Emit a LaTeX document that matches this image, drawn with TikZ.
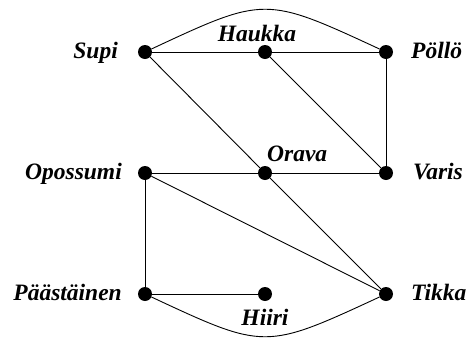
\documentclass[tikz,border=0pt]{standalone}
\usepackage{fontspec}
\setmainfont{Liberation Serif}
\begin{document}
\begin{tikzpicture}[x=1pt,y=-1pt,
  vtx/.style={circle,fill=black,draw=none,minimum size=14pt,inner sep=0pt},
  lbl/.style={inner sep=0pt,font=\fontsize{23.5}{28}\selectfont\bfseries\itshape},
  edge/.style={line width=0.9pt,black}]
\useasboundingbox (0,0) rectangle (467,338);
% vertices
\node[vtx] (supi) at (145,52) {};
\node[vtx] (haukka) at (265,52) {};
\node[vtx] (pollo) at (386,52) {};
\node[vtx] (opossumi) at (145,173) {};
\node[vtx] (orava) at (265,173) {};
\node[vtx] (varis) at (386,173) {};
\node[vtx] (paast) at (145,294) {};
\node[vtx] (hiiri) at (265,294) {};
\node[vtx] (tikka) at (386,294) {};
% labels
\node[lbl,anchor=base east] (lsupi) at (118,58.5) {Supi};
\node[lbl,anchor=base] (lhaukka) at (257,41.5) {Haukka};
\node[lbl,anchor=base west] (lpollo) at (411,58.5) {Pöllö};
\node[lbl,anchor=base east] (lopossumi) at (122,179.5) {Opossumi};
\node[lbl,anchor=base west] (lorava) at (267,161) {Orava};
\node[lbl,anchor=base west] (lvaris) at (413,179.5) {Varis};
\node[lbl,anchor=base east] (lpaast) at (122,300.5) {Päästäinen};
\node[lbl,anchor=base] (lhiiri) at (265,325) {Hiiri};
\node[lbl,anchor=base west] (ltikka) at (411,300.5) {Tikka};
% edges
\draw[edge] (supi) -- (haukka);
\draw[edge] (haukka) -- (pollo);
\draw[edge] (supi) .. controls (265,-4) .. (pollo);
\draw[edge] (supi) -- (orava);
\draw[edge] (orava) -- (tikka);
\draw[edge] (haukka) -- (varis);
\draw[edge] (pollo) -- (varis);
\draw[edge] (opossumi) -- (orava);
\draw[edge] (orava) -- (varis);
\draw[edge] (opossumi) -- (tikka);
\draw[edge] (opossumi) -- (paast);
\draw[edge] (paast) -- (hiiri);
\draw[edge] (paast) .. controls (265,350) .. (tikka);
\end{tikzpicture}
\end{document}
